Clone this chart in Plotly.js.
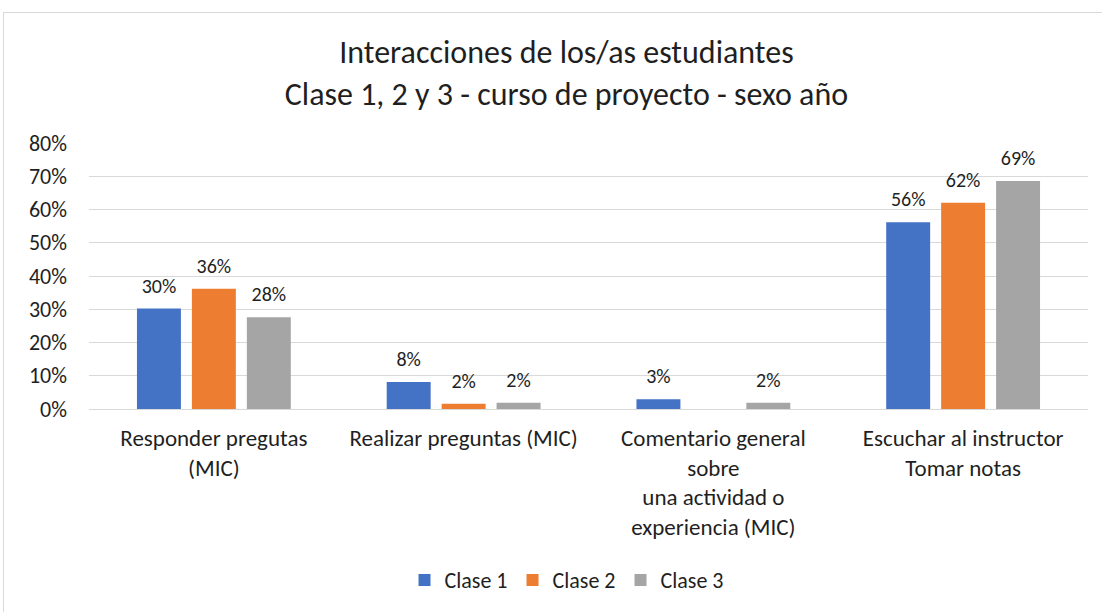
<!DOCTYPE html>
<html>
<head>
<meta charset="utf-8">
<script src="https://cdn.plot.ly/plotly-3.0.1.min.js"></script>
<style>
html,body{margin:0;padding:0;background:#fff;}
#wrap{position:relative;width:1102px;height:612px;overflow:hidden;}
#frame{position:absolute;left:3px;top:12px;width:1200px;height:700px;border-left:1px solid #d9d9d9;border-top:1px solid #d9d9d9;pointer-events:none;}
#chart{position:absolute;left:0;top:0;width:1102px;height:612px;}
</style>
</head>
<body>
<div id="wrap"><div id="chart"></div><div id="frame"></div></div>
<script>
const categories = [
  "Responder pregutas<br>(MIC)",
  "Realizar preguntas (MIC)",
  "Comentario general<br>sobre<br>una actividad o<br>experiencia (MIC)",
  "Escuchar al instructor<br>Tomar notas"
];
const seriesNames = ["Clase 1", "Clase 2", "Clase 3"];
const clase1 = [30.2, 8.1, 2.9, 56.2];
const clase2 = [36.2, 1.6, 0, 62.0];
const clase3 = [27.6, 1.9, 1.9, 68.6];
const colors = ["#4472C4", "#ED7D31", "#A5A5A5"];
const yTicks = [0, 10, 20, 30, 40, 50, 60, 70, 80];

const fontFam = "Carlito, Calibri, 'Open Sans', sans-serif";
const txtColor = "#1f1f1f";
const GAP = 0.34;

const series = [clase1, clase2, clase3];

const bars = series.map((vals, i) => ({
  type: "bar",
  name: seriesNames[i],
  x: categories,
  y: vals,
  marker: {color: colors[i]},
  hoverinfo: "x+y"
}));

const labels = series.map((vals, i) => ({
  type: "scatter",
  mode: "markers+text",
  name: seriesNames[i] + " etiqueta",
  showlegend: false,
  x: categories,
  y: vals,
  marker: {size: 16, opacity: 0, color: colors[i]},
  text: vals.map(v => v > 0 ? Math.round(v) + "%" : ""),
  textposition: "top center",
  cliponaxis: false,
  textfont: {family: fontFam, size: 20, color: txtColor},
  hoverinfo: "skip"
}));

const layout = {
  width: 1102,
  height: 612,
  paper_bgcolor: "#fff",
  plot_bgcolor: "#fff",
  margin: {l: 89, r: 14, t: 143, b: 202},
  barmode: "group",
  bargap: GAP,
  bargroupgap: 0.2,
  scattermode: "group",
  scattergap: GAP,
  font: {family: fontFam, color: txtColor},
  title: {
    text: "Interacciones de los/as estudiantes<br>Clase 1, 2 y 3 - curso de proyecto - sexo año",
    font: {family: fontFam, size: 32, color: txtColor},
    x: 0.514,
    xanchor: "center",
    y: 0.897,
    yanchor: "middle"
  },
  xaxis: {
    type: "category",
    tickfont: {family: fontFam, size: 23, color: txtColor},
    showgrid: false,
    showline: true,
    linecolor: "#d9d9d9",
    ticks: "",
    zeroline: false,
    ticklabelstandoff: 8
  },
  yaxis: {
    range: [0, 80],
    tickvals: yTicks,
    ticktext: yTicks.map(v => v + "%"),
    tickfont: {family: fontFam, size: 22, color: txtColor},
    showgrid: true,
    gridcolor: "#d9d9d9",
    gridwidth: 1,
    zeroline: false,
    showline: false,
    ticks: "",
    ticklabelstandoff: 21
  },
  legend: {
    orientation: "h",
    x: 0.478,
    xanchor: "center",
    y: -0.637,
    yanchor: "middle",
    font: {family: fontFam, size: 22, color: txtColor},
    itemwidth: 30,
    traceorder: "normal"
  },
  showlegend: true
};

Plotly.newPlot("chart", bars.concat(labels), layout, {displayModeBar: false, staticPlot: true});
</script>
</body>
</html>
